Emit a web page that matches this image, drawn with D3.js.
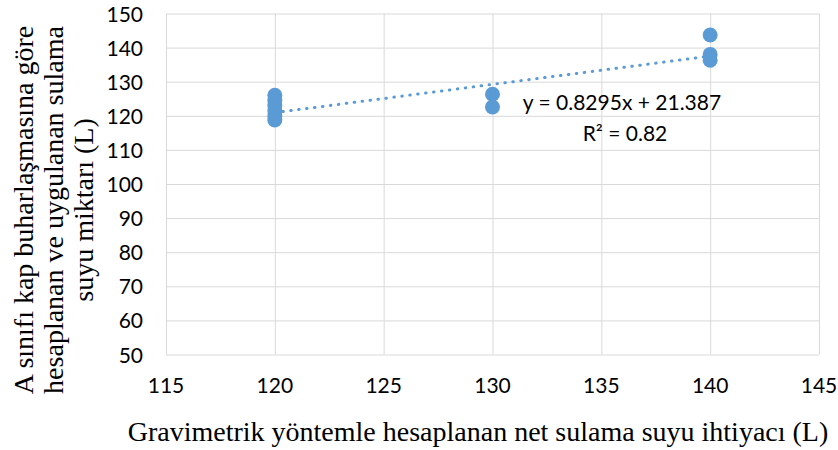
<!DOCTYPE html>
<meta charset="utf-8">
<body style="margin:0;background:#fff">
<script src="https://d3js.org/d3.v7.min.js"></script>
<script>
// Data
const xs120 = [120, 120, 120, 120, 120, 120];
const ys120 = [126, 124.5, 123, 121.5, 120, 118.8];
const xs130 = [130, 130];
const ys130 = [126.3, 122.6];
const xs140 = [140, 140, 140];
const ys140 = [143.7, 138, 136.3];
const xTicks = [115, 120, 125, 130, 135, 140, 145];
const yTicks = [50, 60, 70, 80, 90, 100, 110, 120, 130, 140, 150];
const slope = 0.8295, intercept = 21.387, r2 = "0.82";
const trendRange = [120, 140];

const points = [];
[[xs120, ys120], [xs130, ys130], [xs140, ys140]].forEach(function(p) {
    p[0].forEach(function(x, i) { points.push({x: x, y: p[1][i]}); });
});

const W = 838, H = 450;
const plotLeft = 166, plotRight = 819, plotTop = 13.5, plotBottom = 354.5;

const x = d3.scaleLinear().domain([115, 145]).range([plotLeft, plotRight]);
const y = d3.scaleLinear().domain([50, 150]).range([plotBottom, plotTop]);

const svg = d3.select("body").append("svg")
    .attr("width", W).attr("height", H);

const tickFont = "Lato, 'Open Sans', sans-serif";
const titleFont = "'Liberation Serif', 'DejaVu Serif', serif";

// grid
svg.append("g")
    .attr("transform", "translate(0," + plotBottom + ")")
    .call(d3.axisBottom(x).tickValues(xTicks).tickSize(-(plotBottom - plotTop)).tickFormat(""))
    .call(g => g.select(".domain").remove())
    .call(g => g.selectAll("line").attr("stroke", "#d9d9d9"));
svg.append("g")
    .attr("transform", "translate(" + plotLeft + ",0)")
    .call(d3.axisLeft(y).tickValues(yTicks).tickSize(-(plotRight - plotLeft)).tickFormat(""))
    .call(g => g.select(".domain").remove())
    .call(g => g.selectAll("line").attr("stroke", "#d9d9d9"));

// tick labels
svg.append("g").selectAll("text").data(xTicks).enter().append("text")
    .attr("x", d => x(d)).attr("y", 393)
    .attr("text-anchor", "middle")
    .style("font-family", tickFont).style("font-size", "21px").style("fill", "#000")
    .text(d => d);
svg.append("g").selectAll("text").data(yTicks).enter().append("text")
    .attr("x", 143).attr("y", d => y(d) + 8)
    .attr("text-anchor", "end")
    .style("font-family", tickFont).style("font-size", "21px").style("fill", "#000")
    .text(d => d);

// trendline
svg.append("line")
    .attr("x1", x(trendRange[0])).attr("y1", y(slope * trendRange[0] + intercept))
    .attr("x2", x(trendRange[1])).attr("y2", y(slope * trendRange[1] + intercept))
    .attr("stroke", "#5b9bd5").attr("stroke-width", 3)
    .attr("stroke-linecap", "round").attr("stroke-dasharray", "0.5 7.5");

// points
svg.append("g").selectAll("circle").data(points).enter().append("circle")
    .attr("cx", d => x(d.x)).attr("cy", d => y(d.y)).attr("r", 7.5)
    .attr("fill", "#5b9bd5");

// equation
svg.append("text")
    .attr("x", 622).attr("y", 110).attr("text-anchor", "middle")
    .style("font-family", tickFont).style("font-size", "21px")
    .text("y = " + slope + "x + " + intercept);
svg.append("text")
    .attr("x", 625).attr("y", 141).attr("text-anchor", "middle")
    .style("font-family", tickFont).style("font-size", "21px")
    .text("R² = " + r2);

// axis titles
svg.append("text")
    .attr("x", 478).attr("y", 441).attr("text-anchor", "middle")
    .style("font-family", titleFont).style("font-size", "28px")
    .text("Gravimetrik yöntemle hesaplanan net sulama suyu ihtiyacı (L)");

const yTitle = ["A sınıfı kap buharlaşmasına göre", "hesaplanan ve uygulanan sulama", "suyu miktarı (L)"];
svg.append("text")
    .attr("transform", "translate(0,210) rotate(-90)")
    .attr("text-anchor", "middle")
    .style("font-family", titleFont).style("font-size", "28px")
    .selectAll("tspan").data(yTitle).enter().append("tspan")
    .attr("x", 0).attr("y", (d, i) => 33 + i * 30)
    .text(d => d);
</script>
</body>
